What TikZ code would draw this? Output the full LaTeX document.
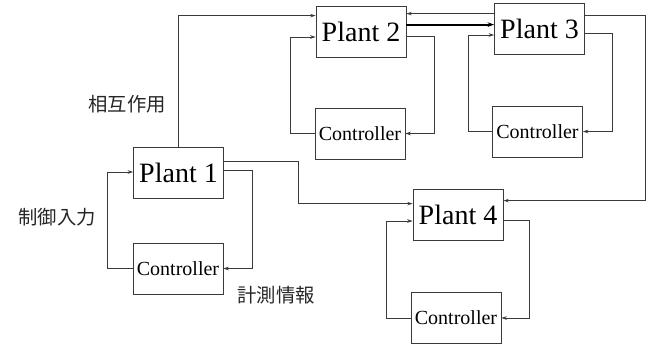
\documentclass[tikz,border=0pt]{standalone}
\usepackage{fontspec}
\setmainfont{Liberation Serif}
\newfontfamily\cjk{Noto Sans CJK JP}
\usetikzlibrary{calc,arrows.meta}
\definecolor{ln}{HTML}{3A3A3A}
\tikzset{
  x=0.75pt, y=-0.75pt,
  plantbox/.style={draw=ln, line width=0.6pt, minimum width=67.5pt, minimum height=38.25pt, inner sep=0pt, font=\fontsize{21}{24}\selectfont},
  ctrlbox/.style={draw=ln, line width=0.6pt, minimum width=67.5pt, minimum height=38.25pt, inner sep=0pt, font=\fontsize{15}{18}\selectfont},
  arr/.style={draw=ln, line width=0.6pt, -{Stealth[length=4pt,width=2.6pt]}},
  thickarr/.style={draw=black, line width=1.5pt, -{Stealth[length=5pt,width=3.5pt]}},
  jlabel/.style={font=\cjk\fontsize{14.5}{16}\selectfont, text=black!85, inner sep=0pt}
}
\begin{document}
\begin{tikzpicture}
\useasboundingbox (0,0) rectangle (656,347);
% plants
\node[plantbox] (P1) at (178.5,173) {Plant 1};
\node[plantbox] (P2) at (361,31.5) {Plant 2};
\node[plantbox] (P3) at (539.5,28.5) {Plant 3};
\node[plantbox] (P4) at (458,214.5) {Plant 4};
% controllers
\node[ctrlbox] (C1) at (178,268.5) {Controller};
\node[ctrlbox] (C2) at (360,133.5) {Controller};
\node[ctrlbox] (C3) at (537.5,131.5) {Controller};
\node[ctrlbox] (C4) at (456,318) {Controller};
% labels
\node[jlabel] (L1) at (127,104) {相互作用};
\node[jlabel] (L2) at (57,217) {制御入力};
\node[jlabel] (L3) at (276,295) {計測情報};
% Plant 1 loop
\draw[arr] (C1.west) -- ++(-25,0) |- ($(P1.west)+(0,-1)$);
\draw[arr] ($(P1.east)+(0,-3)$) -- ++(28,0) |- (C1.east);
% Plant 2 loop
\draw[arr] (C2.west) -- ++(-24,0) |- ($(P2.west)+(0,5.5)$);
\draw[arr] ($(P2.east)+(0,5)$) -- ++(28,0) |- (C2.east);
% Plant 3 loop
\draw[arr] (C3.west) -- ++(-24,0) |- ($(P3.west)+(0,6.5)$);
\draw[arr] ($(P3.east)+(0,4.5)$) -- ++(27,0) |- (C3.east);
% Plant 4 loop
\draw[arr] (C4.west) -- ++(-24,0) |- ($(P4.west)+(0,6.5)$);
\draw[arr] ($(P4.east)+(0,5.5)$) -- ++(26,0) |- (C4.east);
% interactions
\coordinate (a32) at ($(P3.north west)+(0,11)$);
\coordinate (a23) at ($(P2.north east)+(0,19)$);
\draw[arr] (P1.north) |- ($(P2.north west)+(0,10)$);
\draw[arr] ($(P1.north east)+(0,14)$) -- ++(74,0) |- ($(P4.north west)+(0,15)$);
\draw[arr] (a32) -- (a32 -| P2.east);
\draw[thickarr] (a23) -- (a23 -| P3.west);
\draw[arr] ($(P3.north east)+(0,13)$) -- ++(60,0) |- ($(P4.north east)+(0,12)$);
\end{tikzpicture}
\end{document}
